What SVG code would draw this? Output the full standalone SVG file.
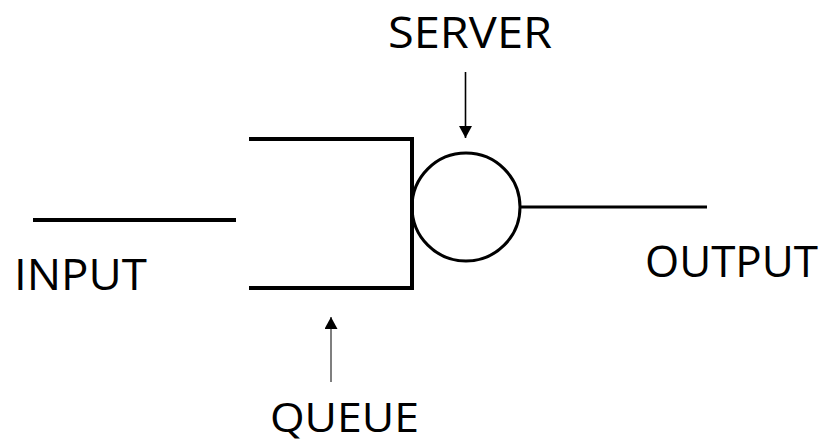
<svg xmlns="http://www.w3.org/2000/svg" width="828" height="444" viewBox="0 0 828 444">
<defs>
<style>
.lbl{font-family:"Open Sans","Liberation Sans",sans-serif;font-size:43px;fill:#000}
.thick{stroke:#000;stroke-width:4;fill:none}
.med{stroke:#000;stroke-width:3;fill:none}
</style>
<marker id="ah" viewBox="0 0 12 13" refX="12" refY="6.5" markerWidth="12" markerHeight="13" markerUnits="userSpaceOnUse" orient="auto">
<path d="M0,0 L12,6.5 L0,13 Z" fill="#000"/>
</marker>
</defs>
<rect width="828" height="444" fill="#fff"/>
<g id="input">
<line class="thick" x1="33" y1="220" x2="236" y2="220"/>
<text class="lbl" x="14" y="290" textLength="133" lengthAdjust="spacingAndGlyphs">INPUT</text>
</g>
<g id="queue">
<polyline class="thick" points="249,139 412,139 412,288 249,288" stroke-linejoin="miter"/>
<text class="lbl" x="270" y="432" style="font-size:40px" textLength="149" lengthAdjust="spacingAndGlyphs">QUEUE</text>
</g>
<g id="server">
<circle class="med" cx="466" cy="207" r="54"/>
<text class="lbl" x="388" y="48" textLength="164" lengthAdjust="spacingAndGlyphs">SERVER</text>
</g>
<g id="output">
<text class="lbl" x="645" y="277" textLength="173" lengthAdjust="spacingAndGlyphs">OUTPUT</text>
</g>
<g id="connectors">
<line class="med" x1="520" y1="207" x2="707" y2="207"/>
<line x1="465.5" y1="72" x2="465.5" y2="138" stroke="#000" stroke-width="1.6" marker-end="url(#ah)"/>
<line x1="331" y1="382" x2="331" y2="317" stroke="#7f7f7f" stroke-width="2" marker-end="url(#ah)"/>
</g>
</svg>
